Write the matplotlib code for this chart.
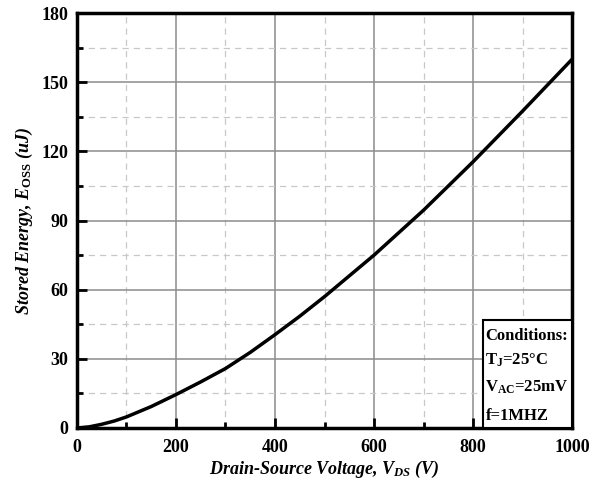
import matplotlib
matplotlib.use("Agg")
import matplotlib.pyplot as plt
from matplotlib.patches import Rectangle
from matplotlib.ticker import MultipleLocator

# data
vds = [0, 25, 50, 75, 100, 150, 200, 250, 300, 350, 400, 450, 500, 600, 700, 800, 900, 1000]
eoss = [0, 0.5, 1.6, 3.0, 4.8, 9.3, 14.5, 20.0, 25.8, 32.8, 40.5, 48.5, 57.0, 75.0, 94.5, 115.5, 137.5, 160.0]

conditions = ["Conditions:", r"T$_{\rm J}$=25°C", r"V$_{\rm AC}$=25mV", "f=1MHZ"]

plt.rcParams["font.family"] = "Liberation Serif"
plt.rcParams["font.weight"] = "bold"
plt.rcParams["mathtext.fontset"] = "custom"
plt.rcParams["mathtext.rm"] = "Liberation Serif:bold"
plt.rcParams["mathtext.it"] = "Liberation Serif:italic:bold"
plt.rcParams["mathtext.bf"] = "Liberation Serif:bold"

fig = plt.figure(figsize=(6.06, 4.88), dpi=100)
ax = fig.add_axes([0.127, 0.123, 0.817, 0.850])

ax.plot(vds, eoss, color="black", lw=2.5, zorder=3)

ax.set_xlim(0, 1000)
ax.set_ylim(0, 180)
ax.xaxis.set_major_locator(MultipleLocator(200))
ax.xaxis.set_minor_locator(MultipleLocator(100))
ax.yaxis.set_major_locator(MultipleLocator(30))
ax.yaxis.set_minor_locator(MultipleLocator(15))

ax.grid(which="major", color="#8c8c8c", lw=1.1, ls="-")
ax.grid(which="minor", color="#c8c8c8", lw=0.9, ls=(0, (5, 4)))

ax.tick_params(which="both", direction="in", top=False, right=False,
               labelsize=13, width=2)
ax.tick_params(which="major", length=7)
ax.tick_params(which="minor", length=4)
ax.tick_params(axis="x", pad=8)
ax.tick_params(axis="y", pad=6)
for lbl in ax.get_xticklabels() + ax.get_yticklabels():
    lbl.set_fontweight("bold")
for s in ax.spines.values():
    s.set_linewidth(2.5)

ax.set_xlabel(r"Drain-Source Voltage, $V_{DS}$ (V)", fontsize=13,
              fontstyle="italic", fontweight="bold", labelpad=2)
ax.set_ylabel(r"Stored Energy, $E_{\rm OSS}$ (uJ)", fontsize=13,
              fontstyle="italic", fontweight="bold", labelpad=5)

# conditions box in the lower right corner
box = Rectangle((0.82, 0.0), 0.18, 0.26, transform=ax.transAxes,
                facecolor="white", edgecolor="black", lw=1.5, zorder=4)
ax.add_patch(box)
ys = [0.222, 0.162, 0.099, 0.029]
for txt, y in zip(conditions, ys):
    ax.text(0.825, y, txt, transform=ax.transAxes, fontsize=12,
            fontweight="bold", va="center", ha="left", zorder=5)

fig.savefig("out.png", dpi=100)
